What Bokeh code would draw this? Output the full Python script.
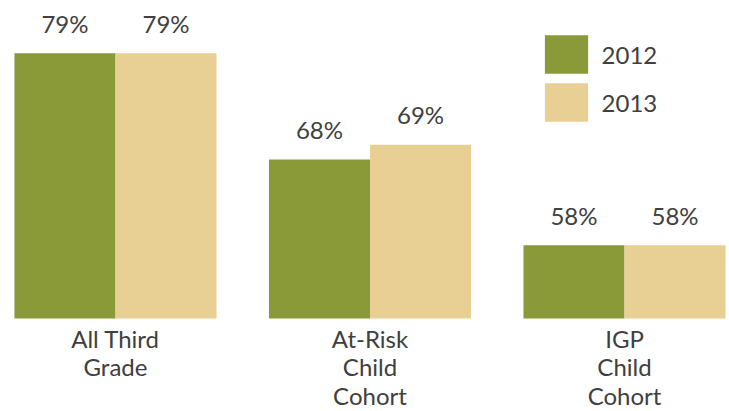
from bokeh.plotting import figure
from bokeh.models import FactorRange, Range1d, ColumnDataSource, Legend, LegendItem
from bokeh.transform import dodge
from bokeh.core.properties import value
from bokeh.embed import file_html
from bokeh.resources import INLINE

# ---- data ----
categories = ["All Third Grade", "At-Risk Child Cohort", "IGP Child Cohort"]
category_labels = ["All Third\nGrade", "At-Risk\nChild\nCohort", "IGP\nChild\nCohort"]
years = ["2012", "2013"]
values_2012 = [79, 67.4, 58]
values_2013 = [79, 69, 58]
labels_2012 = ["79%", "68%", "58%"]
labels_2013 = ["79%", "69%", "58%"]
baseline = 50

GREEN = "#8A9A38"
BEIGE = "#E8CF93"
TEXT = "#404040"
FONT = value("Lato")

src = ColumnDataSource(dict(cat=categories, clab=category_labels,
                            v12=values_2012, v13=values_2013,
                            l12=labels_2012, l13=labels_2013))

k = 192 / 21.0  # px per percent
H = 411
y_start = baseline - (H - 318) / k
y_end = baseline + 318 / k

p = figure(width=729, height=411, output_backend="svg", toolbar_location=None,
           x_range=FactorRange(*categories, range_padding=-0.0583, factor_padding=0),
           y_range=Range1d(y_start, y_end),
           x_axis_location=None, y_axis_location=None,
           min_border_left=10, min_border_right=0, min_border_top=0, min_border_bottom=0)
p.grid.visible = False
p.outline_line_color = None

bw = 0.397
off = bw / 2
r1 = p.vbar(x=dodge("cat", -off, range=p.x_range), top="v12", bottom=baseline, width=bw,
            source=src, fill_color=GREEN, line_color=None)
r2 = p.vbar(x=dodge("cat", off, range=p.x_range), top="v13", bottom=baseline, width=bw,
            source=src, fill_color=BEIGE, line_color=None)

p.text(x=dodge("cat", -off, range=p.x_range), y="v12", text="l12", source=src,
       text_align="center", text_baseline="alphabetic", y_offset=-30,
       text_font=FONT, text_font_size="24px", text_color=TEXT)
p.text(x=dodge("cat", off, range=p.x_range), y="v13", text="l13", source=src,
       text_align="center", text_baseline="alphabetic", y_offset=-30,
       text_font=FONT, text_font_size="24px", text_color=TEXT)

p.text(x="cat", y=baseline, text="clab", source=src,
       text_align="center", text_baseline="top", y_offset=5, text_line_height=0.99,
       text_font=FONT, text_font_size="24px", text_color=TEXT)

legend = Legend(items=[LegendItem(label=years[0], renderers=[r1]),
                       LegendItem(label=years[1], renderers=[r2])],
                location=(528.6, 285), glyph_width=54, glyph_height=48, spacing=0,
                label_standoff=9, padding=0, margin=0, border_line_color=None,
                background_fill_alpha=0, label_text_font="Lato",
                label_text_font_size="24px", label_text_color=TEXT)
p.add_layout(legend)

open("out.html", "w").write(file_html(p, INLINE))
